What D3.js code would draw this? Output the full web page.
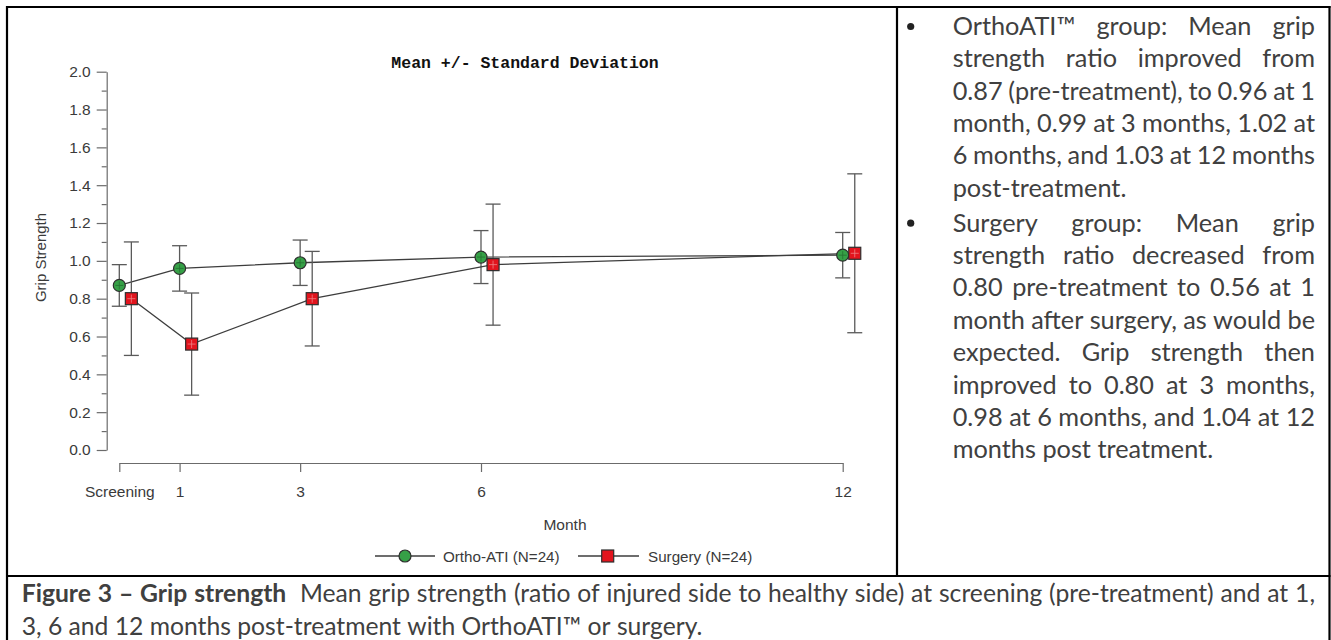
<!DOCTYPE html>
<html><head><meta charset="utf-8">
<script src="https://cdn.jsdelivr.net/npm/d3@7"></script>
<style>body{margin:0;background:#fff}svg{display:block}</style>
</head><body>
<svg id="c" width="1331" height="640"></svg>
<script>
// ---------- data ----------
const timeLabels = ["Screening", "1", "3", "6", "12"];
const months = [0, 1, 3, 6, 12];
const orthoMean = [0.87, 0.96, 0.99, 1.02, 1.03];
const orthoLow  = [0.76, 0.84, 0.87, 0.88, 0.91];
const orthoHigh = [0.98, 1.08, 1.11, 1.16, 1.15];
const surgeryMean = [0.80, 0.56, 0.80, 0.98, 1.04];
const surgeryLow  = [0.50, 0.29, 0.55, 0.66, 0.62];
const surgeryHigh = [1.10, 0.83, 1.05, 1.30, 1.46];
const yTicks = [0.0, 0.2, 0.4, 0.6, 0.8, 1.0, 1.2, 1.4, 1.6, 1.8, 2.0];
const seriesNames = ["Ortho-ATI (N=24)", "Surgery (N=24)"];
const chartTitle = "Mean +/- Standard Deviation";
const xTitle = "Month";
const yTitle = "Grip Strength";
const para1 = [
  "OrthoATI™ group: Mean grip",
  "strength ratio improved from",
  "0.87 (pre-treatment), to 0.96 at 1",
  "month, 0.99 at 3 months, 1.02 at",
  "6 months, and 1.03 at 12 months",
  "post-treatment."
];
const para2 = [
  "Surgery group: Mean grip",
  "strength ratio decreased from",
  "0.80 pre-treatment to 0.56 at 1",
  "month after surgery, as would be",
  "expected. Grip strength then",
  "improved to 0.80 at 3 months,",
  "0.98 at 6 months, and 1.04 at 12",
  "months post treatment."
];
const captionBold = "Figure 3 – Grip strength";
const captionRest = "Mean grip strength (ratio of injured side to healthy side) at screening (pre-treatment) and at 1,";
const captionLine2 = "3, 6 and 12 months post-treatment with OrthoATI™ or surgery.";

// ---------- layout ----------
const surgeryDodge = 0.2;          // month offset of surgery markers
const green = "#36a047", red = "#e2141d";
const axisFont = "'Liberation Sans', Arial, sans-serif";
const bodyFont = "Lato, 'Open Sans', sans-serif";
const svg = d3.select("#c");

const x = d3.scaleLinear().domain([0, 12]).range([119.3, 842.7]);
const y = d3.scaleLinear().domain([0, 2]).range([450, 71.7]);

// ---------- table borders ----------
const border = svg.append("g").attr("stroke", "#000").attr("stroke-width", 2.2);
border.append("line").attr("x1", 6).attr("x2", 1330.5).attr("y1", 7).attr("y2", 7);
border.append("line").attr("x1", 7).attr("x2", 7).attr("y1", 6).attr("y2", 640);
border.append("line").attr("x1", 1329.5).attr("x2", 1329.5).attr("y1", 6).attr("y2", 640);
border.append("line").attr("x1", 897).attr("x2", 897).attr("y1", 6).attr("y2", 576);
border.append("line").attr("x1", 6).attr("x2", 1330.5).attr("y1", 576).attr("y2", 576);

// ---------- axes ----------
function styleAxis(g) {
  g.selectAll(".domain").attr("stroke", "#6b6b6b").attr("stroke-width", 1.2);
  g.selectAll(".tick line").attr("stroke", "#6b6b6b").attr("stroke-width", 1.2);
  g.selectAll(".tick text").attr("fill", "#3a3a3a").attr("font-size", 15.5).attr("font-family", axisFont);
}
const yAxis = svg.append("g").attr("transform", "translate(106.7,0)")
  .call(d3.axisLeft(y).tickValues(yTicks).tickFormat(d3.format(".1f")).tickSize(10).tickSizeOuter(0).tickPadding(6));
styleAxis(yAxis);
const minorTicks = yTicks.slice(0, -1).map(d => d + 0.1);
const yMinor = svg.append("g").attr("transform", "translate(106.7,0)")
  .call(d3.axisLeft(y).tickValues(minorTicks).tickFormat("").tickSize(5).tickSizeOuter(0));
yMinor.select(".domain").remove();
styleAxis(yMinor);

const xAxis = svg.append("g").attr("transform", "translate(0,463)")
  .call(d3.axisBottom(x).tickValues(months).tickFormat((d, i) => timeLabels[i]).tickSize(9).tickSizeOuter(0).tickPadding(13.5));
styleAxis(xAxis);

svg.append("text").attr("x", 565).attr("y", 529.5).attr("text-anchor", "middle")
  .attr("font-family", axisFont).attr("font-size", 15.5).attr("fill", "#3a3a3a").text(xTitle);
svg.append("text").attr("transform", "translate(46,257.5) rotate(-90)").attr("text-anchor", "middle")
  .attr("font-family", axisFont).attr("font-size", 15).attr("fill", "#3a3a3a").text(yTitle);
svg.append("text").attr("x", 525).attr("y", 68.3).attr("text-anchor", "middle")
  .attr("font-family", "'Courier New', 'Liberation Mono', monospace").attr("font-weight", 700)
  .attr("font-size", 16.5).attr("fill", "#111").text(chartTitle);

// ---------- series ----------
const series = [
  {mean: orthoMean, low: orthoLow, high: orthoHigh, dodge: 0, shape: "circle", color: green},
  {mean: surgeryMean, low: surgeryLow, high: surgeryHigh, dodge: surgeryDodge, shape: "square", color: red}
];
const plot = svg.append("g");
series.forEach(s => {
  const pts = months.map((m, i) => ({x: x(m + s.dodge), y: y(s.mean[i]), lo: y(s.low[i]), hi: y(s.high[i])}));
  plot.append("path").attr("d", d3.line().x(d => d.x).y(d => d.y)(pts))
    .attr("fill", "none").attr("stroke", "#3d3d3d").attr("stroke-width", 1.3);
  const eb = plot.append("g").attr("stroke", "#5a5a5a").attr("stroke-width", 1.3);
  pts.forEach(p => {
    eb.append("line").attr("x1", p.x).attr("x2", p.x).attr("y1", p.lo).attr("y2", p.hi);
    eb.append("line").attr("x1", p.x - 7.5).attr("x2", p.x + 7.5).attr("y1", p.lo).attr("y2", p.lo);
    eb.append("line").attr("x1", p.x - 7.5).attr("x2", p.x + 7.5).attr("y1", p.hi).attr("y2", p.hi);
  });
});
function marker(g, shape, color, cx, cy) {
  if (shape === "circle") {
    g.append("circle").attr("cx", cx).attr("cy", cy).attr("r", 6)
      .attr("fill", color).attr("stroke", "#2e2e2e").attr("stroke-width", 1.2);
  } else {
    g.append("rect").attr("x", cx - 6).attr("y", cy - 6).attr("width", 12).attr("height", 12)
      .attr("fill", color).attr("stroke", "#2e2e2e").attr("stroke-width", 1.2);
  }
}
series.forEach(s => {
  months.forEach((m, i) => {
    const cx = x(m + s.dodge), cy = y(s.mean[i]);
    marker(plot, s.shape, s.color, cx, cy);
    plot.append("path").attr("d", `M${cx - 4},${cy}H${cx + 4}M${cx},${cy - 4}V${cy + 4}`)
      .attr("stroke", s.shape === "circle" ? "#1d5e27" : "#f3b0b0").attr("stroke-width", 0.8).attr("opacity", 0.7);
  });
});

// ---------- legend ----------
const leg = svg.append("g");
const legY = 556;
[[375, 435, 405, 443], [578, 639, 607.7, 648]].forEach((pos, i) => {
  leg.append("line").attr("x1", pos[0]).attr("x2", pos[1]).attr("y1", legY).attr("y2", legY)
    .attr("stroke", "#3d3d3d").attr("stroke-width", 1.3);
  marker(leg, series[i].shape, series[i].color, pos[2], legY);
  leg.append("text").attr("x", pos[3]).attr("y", legY + 5.5).attr("font-family", axisFont)
    .attr("font-size", 15.2).attr("fill", "#3a3a3a").text(seriesNames[i]);
});

// ---------- text helpers ----------
const meas = svg.append("text").attr("x", -2000).attr("y", -2000).style("white-space", "pre");
function tw(s, size, weight) {
  meas.attr("font-family", bodyFont).attr("font-size", size).attr("font-weight", weight || 400).text(s);
  return meas.node().getComputedTextLength();
}
// tokens: [{t, bold, gap}] gap = weight of space before token
function placeTokens(g, tokens, x0, x1, base, justify, size, color) {
  const widths = tokens.map(k => tw(k.t, size, k.bold ? 700 : 400));
  const sum = d3.sum(widths);
  const gapW = d3.sum(tokens.slice(1), k => k.gap);
  const sp = tw("a a", size) - tw("aa", size);
  const unit = justify ? (x1 - x0 - sum) / gapW : sp;
  let cx = x0;
  tokens.forEach((k, i) => {
    if (i > 0) cx += unit * k.gap;
    g.append("text").attr("x", cx).attr("y", base).attr("font-family", bodyFont)
      .attr("font-size", size).attr("font-weight", k.bold ? 700 : 400).attr("fill", color).text(k.t);
    cx += widths[i];
  });
}
const toks = (s, bold) => s.split(" ").map(t => ({t, bold: !!bold, gap: 1}));

// ---------- right-hand notes ----------
const bodySize = 100 * (1213.3 - 952.7) / tw("months post treatment.", 100);
const notes = svg.append("g");
const lh = 32.37;
[[para1, 35], [para2, 231.7]].forEach(([lines, b0]) => {
  notes.append("circle").attr("cx", 910.7).attr("cy", b0 - 8.5).attr("r", 3.6).attr("fill", "#222");
  lines.forEach((ln, i) => {
    placeTokens(notes, toks(ln), 952.7, 1315, b0 + i * lh, i < lines.length - 1, bodySize, "#404040");
  });
});

// ---------- caption ----------
const capSize = 100 * (701.7 - 21.7) / tw(captionLine2, 100);
const cap = svg.append("g");
const line1 = toks(captionBold, true).concat(toks(captionRest).map((k, i) => i === 0 ? {...k, gap: 2} : k));
placeTokens(cap, line1, 21.7, 1315, 601.7, true, capSize, "#404040");
placeTokens(cap, toks(captionLine2), 21.7, 701.7, 635, false, capSize, "#404040");
meas.remove();
</script>
</body></html>
